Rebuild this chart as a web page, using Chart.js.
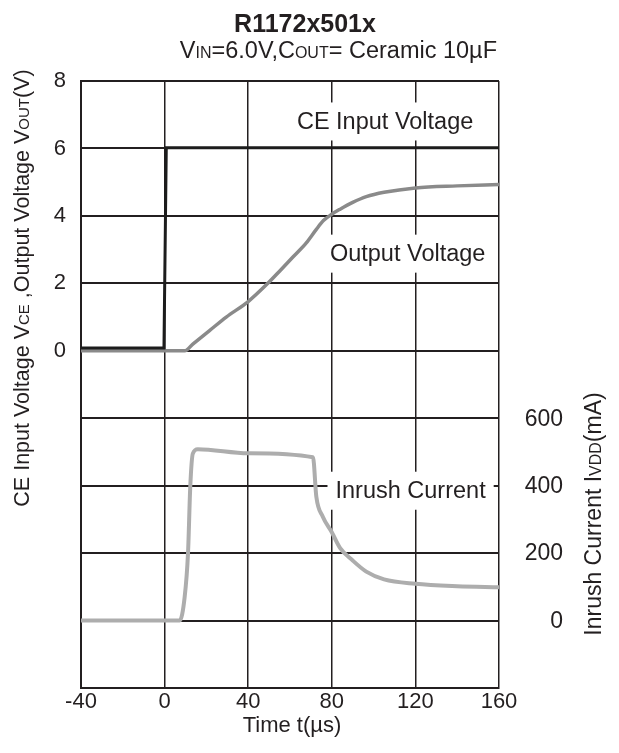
<!DOCTYPE html>
<html>
<head>
<meta charset="utf-8">
<title>R1172x501x inrush</title>
<script src="https://cdn.jsdelivr.net/npm/chart.js@4/dist/chart.umd.min.js"></script>
<style>
  html, body { margin: 0; padding: 0; background: #fff; }
</style>
</head>
<body>
<canvas id="chart" width="619" height="753"></canvas>
<script>
/* ---- data ---- */
const timeTicks = [-40, 0, 40, 80, 120, 160];
const voltTicks = [0, 2, 4, 6, 8];
const currentTicks = [0, 200, 400, 600];

// CE input voltage (V)
const ceTime = [-40, -0.3, 0.8, 160];
const ceVolt = [0.08, 0.08, 6.02, 6.02];

// Output voltage (V)
const outTime = [-40, 9.6, 13.5, 21.5, 29.5, 40, 49.4, 55, 61.4, 67.8, 72.6, 76, 80, 84, 90, 96.5, 105, 120, 140, 160];
const outVolt = [0.0, 0.0, 0.2, 0.6, 1.0, 1.46, 2.0, 2.36, 2.78, 3.2, 3.6, 3.86, 4.05, 4.2, 4.4, 4.57, 4.7, 4.83, 4.89, 4.93];

// Inrush current (mA)
const inTime = [-40, 7.2, 9.6, 11.2, 12.3, 13.5, 15.9, 40, 71, 72.6, 75.7, 80, 84, 90, 96.5, 105, 120, 140, 160];
const inCurrent = [0, 0, 70, 200, 400, 495, 508, 496, 484, 367, 308, 262, 215, 178, 145, 122, 109, 102, 99];

const INK = '#231f20';
const FONT = '"Liberation Sans", Arial, Helvetica, sans-serif';

const toPoints = (xs, ys) => xs.map((x, i) => ({ x, y: ys[i] }));

// draws a run of text pieces with their own sizes (for the small-cap subscripts)
function drawRich(ctx, segs, x, y, align, angle) {
  ctx.save();
  ctx.translate(x, y);
  if (angle) ctx.rotate(angle);
  ctx.textBaseline = 'alphabetic';
  ctx.textAlign = 'left';
  ctx.fillStyle = INK;
  let w = 0;
  segs.forEach(s => {
    ctx.font = (s[2] ? 'bold ' : '') + s[1] + 'px ' + FONT;
    w += ctx.measureText(s[0]).width;
  });
  let cx = align === 'center' ? -w / 2 : align === 'right' ? -w : 0;
  segs.forEach(s => {
    ctx.font = (s[2] ? 'bold ' : '') + s[1] + 'px ' + FONT;
    ctx.fillText(s[0], cx, 0);
    cx += ctx.measureText(s[0]).width;
  });
  ctx.restore();
}

const textPlugin = {
  id: 'scopeText',
  beforeDatasetsDraw(chart) {
    const { ctx, scales } = chart;
    const labels = [
      { text: 'CE Input Voltage', t: 105.5, v: 6.8, axis: 'y' },
      { text: 'Output Voltage', t: 116.3, v: 2.88, axis: 'y' },
      { text: 'Inrush Current', t: 117.7, v: 385, axis: 'y1' }
    ];
    ctx.save();
    ctx.font = '23.5px ' + FONT;
    labels.forEach(l => {
      const cx = scales.x.getPixelForValue(l.t);
      const cy = scales[l.axis].getPixelForValue(l.v);
      const w = ctx.measureText(l.text).width;
      ctx.fillStyle = '#fff';
      ctx.fillRect(cx - w / 2 - 8, cy - 19, w + 16, 38);
      ctx.fillStyle = INK;
      ctx.textAlign = 'center';
      ctx.textBaseline = 'middle';
      ctx.fillText(l.text, cx, cy + 1);
    });
    ctx.restore();
  },
  afterDraw(chart) {
    const { ctx, scales, chartArea } = chart;
    // right-hand current ticks
    ctx.save();
    ctx.font = '23px ' + FONT;
    ctx.fillStyle = INK;
    ctx.textAlign = 'right';
    ctx.textBaseline = 'middle';
    currentTicks.forEach(v => {
      ctx.fillText(String(v), chartArea.right + 64, scales.y1.getPixelForValue(v) + 1);
    });
    ctx.restore();

    drawRich(ctx, [['R1172x501x', 25, true]], 305, 32, 'center');
    drawRich(ctx, [['V', 23.5], ['IN', 16], ['=6.0V,C', 23.5], ['OUT', 16], ['= Ceramic 10\u00b5F', 23.5]], 497, 58, 'right');
    drawRich(ctx, [['Time t(\u00b5s)', 22]], 292, 732, 'center');
    drawRich(ctx, [['CE Input Voltage V', 21.5], ['CE', 15], [' ,Output Voltage V', 21.5], ['OUT', 15], ['(V)', 21.5]],
      29, 288, 'center', -Math.PI / 2);
    drawRich(ctx, [['Inrush Current I', 23], ['VDD', 16], ['(mA)', 23]],
      601, 514, 'center', -Math.PI / 2);
  }
};

new Chart(document.getElementById('chart'), {
  type: 'line',
  data: {
    datasets: [
      {
        label: 'CE Input Voltage',
        data: toPoints(ceTime, ceVolt),
        yAxisID: 'y',
        borderColor: '#1c1c1c',
        borderWidth: 3,
        tension: 0
      },
      {
        label: 'Output Voltage',
        data: toPoints(outTime, outVolt),
        yAxisID: 'y',
        borderColor: '#8a8a8a',
        borderWidth: 3.5,
        cubicInterpolationMode: 'monotone'
      },
      {
        label: 'Inrush Current',
        data: toPoints(inTime, inCurrent),
        yAxisID: 'y1',
        borderColor: '#adadad',
        borderWidth: 4,
        cubicInterpolationMode: 'monotone'
      }
    ]
  },
  options: {
    responsive: false,
    animation: false,
    events: [],
    elements: { point: { radius: 0 } },
    layout: { padding: { top: 81, left: 0, right: 0, bottom: 0 } },
    plugins: { legend: { display: false }, tooltip: { enabled: false } },
    scales: {
      x: {
        type: 'linear',
        min: -40,
        max: 160,
        afterFit: s => { s.height = 65; },
        afterBuildTicks: s => { s.ticks = timeTicks.map(v => ({ value: v })); },
        grid: { color: INK, lineWidth: 1.5, drawTicks: false },
        border: { color: INK, width: 2 },
        ticks: { color: INK, padding: 1, font: { family: FONT, size: 22 } }
      },
      y: {
        position: 'left',
        min: -10,
        max: 8,
        afterFit: s => { s.width = 81; },
        ticks: {
          stepSize: 2,
          color: INK,
          padding: 15,
          font: { family: FONT, size: 22 },
          callback: v => voltTicks.includes(v) ? v : ''
        },
        grid: { color: INK, lineWidth: 2, drawTicks: false },
        border: { color: INK, width: 2 }
      },
      y1: {
        position: 'right',
        min: -200,
        max: 1600,
        afterFit: s => { s.width = 120; },
        ticks: { display: false, stepSize: 200 },
        grid: { display: false, drawTicks: false },
        border: { display: false }
      }
    }
  },
  plugins: [textPlugin]
});
</script>
</body>
</html>
